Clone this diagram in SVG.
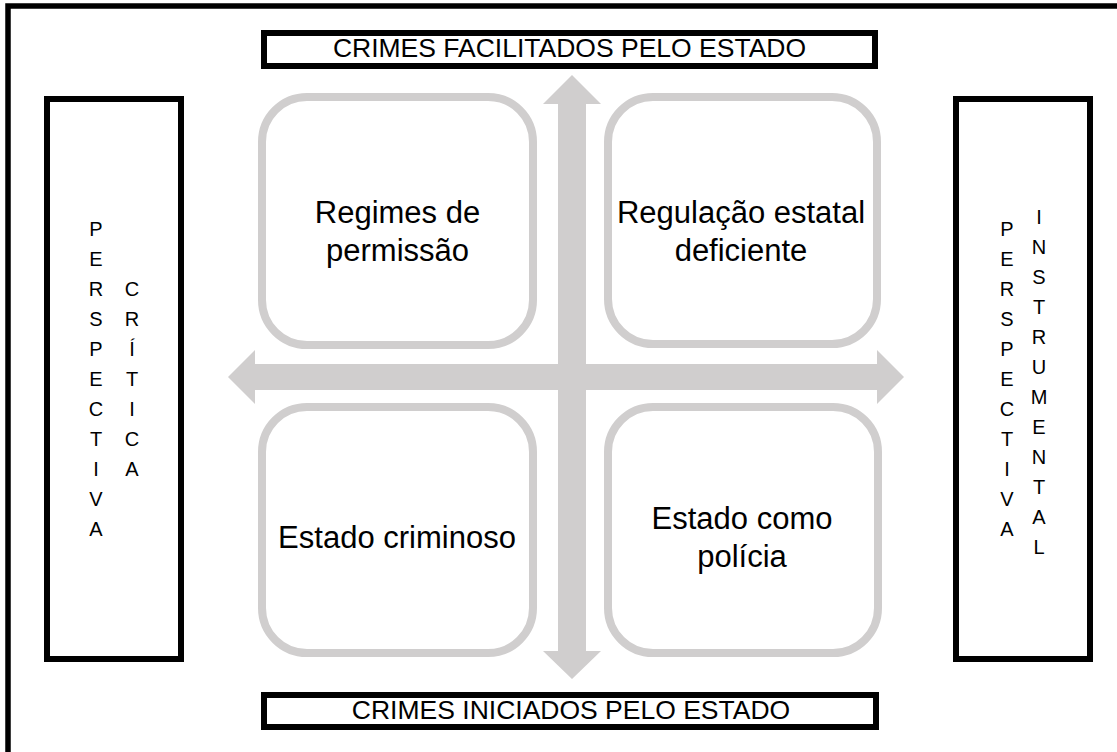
<svg xmlns="http://www.w3.org/2000/svg" width="1117" height="752" viewBox="0 0 1117 752">
<style>
.frame{fill:none;stroke:#000;stroke-width:5.5}
.bbox{fill:#fff;stroke:#000;stroke-width:6}
.quad{fill:#fff;stroke:#D0CECE;stroke-width:8}
.arrow{fill:#D0CECE;stroke:none}
.lbl{font-family:"Liberation Sans",Arial,sans-serif;fill:#000;text-anchor:middle}
.big{font-size:26.5px}
.q{font-size:31px}
.v{font-size:20px}
</style>
<rect width="1117" height="752" fill="#fff"/>
<path class="frame" d="M8,752 V6 H1117"/>

<g id="connectors">
  <polygon class="arrow" points="572,75 601,104 586,104 586,651 601,651 572,679 543,651 558,651 558,104 543,104"/>
  <polygon class="arrow" points="228,377 255,350 255,364 877,364 877,350 904,377 877,404 877,390 255,390 255,404"/>
</g>

<g id="top-label">
  <rect class="bbox" x="264" y="33" width="611" height="33"/>
  <text class="lbl big" x="569.5" y="57">CRIMES FACILITADOS PELO ESTADO</text>
</g>
<g id="bottom-label">
  <rect class="bbox" x="264" y="695" width="612" height="32"/>
  <text class="lbl big" x="571" y="719">CRIMES INICIADOS PELO ESTADO</text>
</g>

<g id="q-regimes">
  <rect class="quad" x="262" y="97" width="271" height="248" rx="45" ry="45"/>
  <text class="lbl q" x="397.5" y="223">Regimes de</text>
  <text class="lbl q" x="397.5" y="261">permissão</text>
</g>
<g id="q-regulacao">
  <rect class="quad" x="608" y="97" width="269" height="247" rx="45" ry="45"/>
  <text class="lbl q" x="741" y="223">Regulação estatal</text>
  <text class="lbl q" x="741" y="261">deficiente</text>
</g>
<g id="q-criminoso">
  <rect class="quad" x="262" y="407" width="271" height="246" rx="45" ry="45"/>
  <text class="lbl q" x="397" y="548">Estado criminoso</text>
</g>
<g id="q-policia">
  <rect class="quad" x="608" y="407" width="270" height="246" rx="45" ry="45"/>
  <text class="lbl q" x="742" y="529">Estado como</text>
  <text class="lbl q" x="742" y="567">polícia</text>
</g>

<g id="left-perspective">
  <rect class="bbox" x="47" y="99" width="134" height="560"/>
  <text class="lbl v">
    <tspan x="96" y="236">P</tspan><tspan x="96" y="266">E</tspan><tspan x="96" y="296">R</tspan><tspan x="96" y="326">S</tspan><tspan x="96" y="356">P</tspan><tspan x="96" y="386">E</tspan><tspan x="96" y="416">C</tspan><tspan x="96" y="446">T</tspan><tspan x="96" y="476">I</tspan><tspan x="96" y="506">V</tspan><tspan x="96" y="536">A</tspan>
  </text>
  <text class="lbl v">
    <tspan x="132" y="296">C</tspan><tspan x="132" y="326">R</tspan><tspan x="132" y="356">Í</tspan><tspan x="132" y="386">T</tspan><tspan x="132" y="416">I</tspan><tspan x="132" y="446">C</tspan><tspan x="132" y="476">A</tspan>
  </text>
</g>

<g id="right-perspective">
  <rect class="bbox" x="956" y="99" width="134" height="560"/>
  <text class="lbl v">
    <tspan x="1007" y="236">P</tspan><tspan x="1007" y="266">E</tspan><tspan x="1007" y="296">R</tspan><tspan x="1007" y="326">S</tspan><tspan x="1007" y="356">P</tspan><tspan x="1007" y="386">E</tspan><tspan x="1007" y="416">C</tspan><tspan x="1007" y="446">T</tspan><tspan x="1007" y="476">I</tspan><tspan x="1007" y="506">V</tspan><tspan x="1007" y="536">A</tspan>
  </text>
  <text class="lbl v">
    <tspan x="1039" y="224">I</tspan><tspan x="1039" y="254">N</tspan><tspan x="1039" y="284">S</tspan><tspan x="1039" y="314">T</tspan><tspan x="1039" y="344">R</tspan><tspan x="1039" y="374">U</tspan><tspan x="1039" y="404">M</tspan><tspan x="1039" y="434">E</tspan><tspan x="1039" y="464">N</tspan><tspan x="1039" y="494">T</tspan><tspan x="1039" y="524">A</tspan><tspan x="1039" y="554">L</tspan>
  </text>
</g>
</svg>
